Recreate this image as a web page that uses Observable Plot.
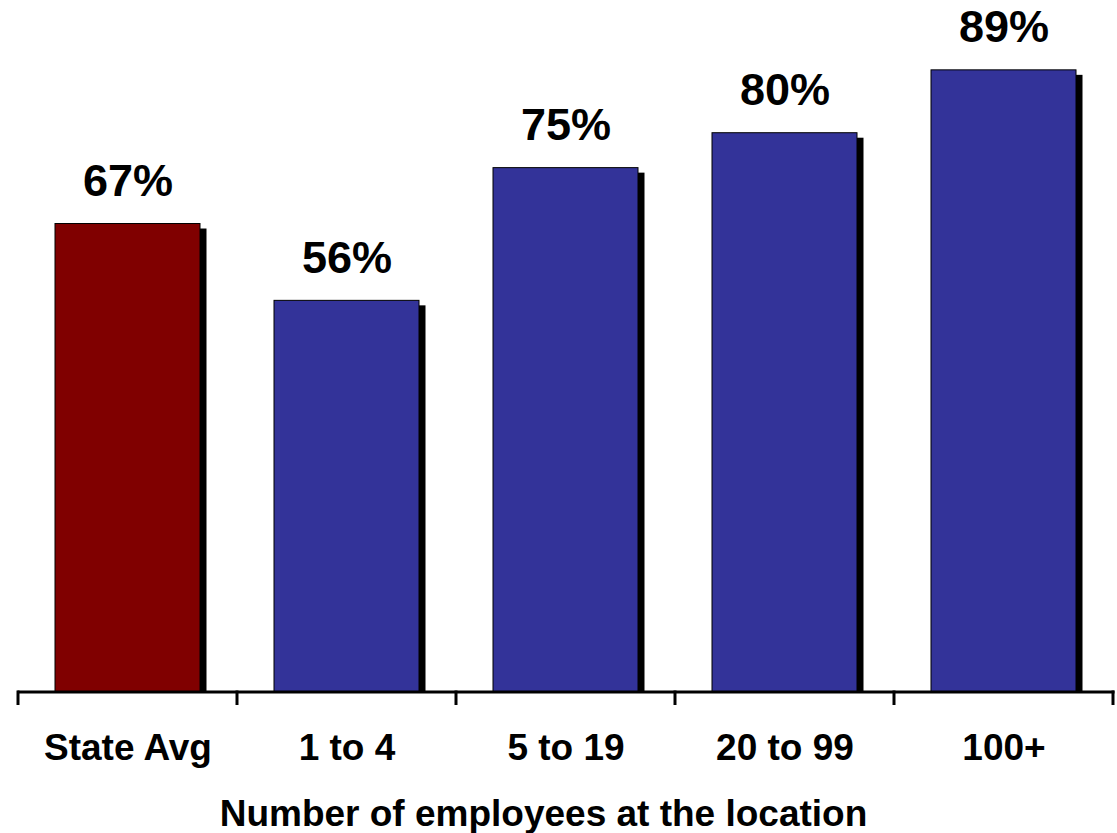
<!DOCTYPE html>
<html>
<head>
<meta charset="utf-8">
<script src="https://cdn.jsdelivr.net/npm/d3@7"></script>
<script src="https://cdn.jsdelivr.net/npm/@observablehq/plot@0.6"></script>
<style>
  html, body { margin: 0; padding: 0; background: #ffffff; }
  #chart svg { display: block; }
</style>
</head>
<body>
<div id="chart"></div>
<script>
const categories = ["State Avg", "1 to 4", "5 to 19", "20 to 99", "100+"];
const values = [67, 56, 75, 80, 89];
const barColors = ["#800000", "#333399", "#333399", "#333399", "#333399"];
const xTitle = "Number of employees at the location";

const data = categories.map((c, i) => ({category: c, value: values[i], color: barColors[i]}));

const font = "'Liberation Sans', Arial, Helvetica, sans-serif";

function bandEdgeTicks(index, scales, values, dims) {
  const x = scales.x;
  const desc = scales.scales && scales.scales.x;
  const step = typeof x.step === "function" ? x.step() : desc.step;
  const bw = typeof x.bandwidth === "function" ? x.bandwidth() : desc.bandwidth;
  const edges = categories.map(c => x(c) + bw / 2 - step / 2);
  edges.push(x(categories[categories.length - 1]) + bw / 2 + step / 2);
  const y0 = dims.height - dims.marginBottom;
  const g = d3.create("svg:g");
  g.selectAll("line").data(edges).join("line")
    .attr("x1", d => d).attr("x2", d => d)
    .attr("y1", y0 - 1).attr("y2", y0 + 13.5)
    .attr("stroke", "black").attr("stroke-width", 3);
  return g.node();
}

const chart = Plot.plot({
  width: 1117,
  height: 833,
  marginLeft: 17.5,
  marginRight: 2.5,
  marginTop: 0,
  marginBottom: 141.5,
  style: {fontFamily: font, background: "#ffffff", color: "black"},
  x: {domain: categories, paddingInner: 0.336, paddingOuter: 0.166, axis: null},
  y: {domain: [0, 99], axis: null},
  color: {type: "identity"},
  marks: [
    Plot.barY(data, {x: "category", y: "value", fill: "black", dx: 6.5, dy: 5, insetBottom: 5}),
    Plot.barY(data, {x: "category", y: "value", fill: "color", stroke: "black", strokeWidth: 1}),
    Plot.ruleY([0], {stroke: "black", strokeWidth: 3}),
    bandEdgeTicks,
    Plot.axisX({tickSize: 0, tickPadding: 42, fontSize: 37, fontWeight: "bold", label: null}),
    Plot.text(data, {x: "category", y: "value", text: d => `${d.value}%`, lineAnchor: "bottom", dy: -28, fontSize: 45, fontWeight: "bold", fill: "black"}),
    Plot.text([xTitle], {frameAnchor: "bottom", dx: -23, dy: 133.5, lineAnchor: "bottom", fontSize: 37, fontWeight: "bold", fill: "black"})
  ]
});
document.getElementById("chart").appendChild(chart);
</script>
</body>
</html>
